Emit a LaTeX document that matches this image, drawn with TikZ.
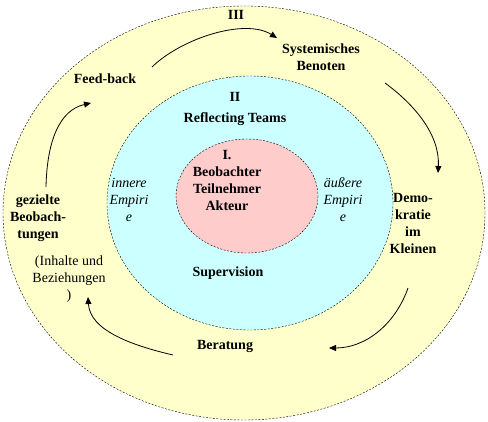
\documentclass[tikz,border=0pt]{standalone}
\usepackage{fontspec}
\setmainfont{Liberation Serif}
\usetikzlibrary{arrows.meta}
\definecolor{ringthree}{HTML}{FFFFCC}
\definecolor{ringtwo}{HTML}{CCFFFF}
\definecolor{ringone}{HTML}{FFCCCC}

\begin{document}
\begin{tikzpicture}[x=1pt, y=-1pt, thin,
    ring/.style={draw, dash pattern=on 2pt off 1.5pt},
    lbl/.style={font=\fontsize{14}{17}\selectfont\bfseries, align=center, inner sep=0pt},
    emp/.style={font=\fontsize{14}{17}\selectfont\itshape, align=center, inner sep=0pt},
    note/.style={font=\fontsize{14}{17}\selectfont, align=center, inner sep=0pt},
    flow/.style={line width=0.8pt, -{Triangle[length=7pt, width=6pt]}}]
    \useasboundingbox (0,0) rectangle (488,422);

    % Rings III, II, I
    \draw[ring, fill=ringthree] (244,213) ellipse [x radius=241, y radius=207];
    \draw[ring, fill=ringtwo] (250,203) ellipse [x radius=143, y radius=127];
    \draw[ring, fill=ringone] (247,196) ellipse [x radius=71, y radius=57];

    % Ring III labels
    \node[lbl] (three) at (236,15) {III};
    \node[lbl] (benoten) at (321,57) {Systemisches\\Benoten};
    \node[lbl] (feedback) at (105,79) {Feed-back};
    \node[lbl] (demo) at (413,223) {Demo-\\kratie\\im\\Kleinen};
    \node[lbl] (gezielt) at (38,218) {gezielte\\Beobach-\\tungen};
    \node[note] (inhalte) at (69,279) {(Inhalte und\\Beziehungen\\)};
    \node[lbl] (beratung) at (225,346) {Beratung};

    % Ring II labels
    \node[lbl] (two) at (235,97) {II};
    \node[lbl] (teams) at (235,119) {Reflecting Teams};
    \node[emp] (innere) at (129,200) {innere\\Empiri\\e};
    \node[emp] (aeussere) at (343,200) {äußere\\Empiri\\e};
    \node[lbl] (supervision) at (228,273) {Supervision};

    % Ring I labels
    \node[lbl] (one) at (227,181) {I.\\Beobachter\\Teilnehmer\\Akteur};

    % Cycle arrows
    \coordinate (a1) at (152,67);   \coordinate (b1) at (277,38);
    \coordinate (a2) at (385,83);   \coordinate (b2) at (438,173);
    \coordinate (a3) at (408,288);  \coordinate (b3) at (329,348);
    \coordinate (a4) at (173,355);  \coordinate (b4) at (88,297);
    \coordinate (a5) at (46,187);   \coordinate (b5) at (91,103);
    \draw[flow] (a1) .. controls (182,38) and (245,18) .. (b1);
    \draw[flow] (a2) .. controls (415,105) and (440,135) .. (b2);
    \draw[flow] (a3) .. controls (395,325) and (365,348) .. (b3);
    \draw[flow] (a4) .. controls (130,345) and (90,330) .. (b4);
    \draw[flow] (a5) .. controls (47,140) and (60,110) .. (b5);
\end{tikzpicture}
\end{document}
